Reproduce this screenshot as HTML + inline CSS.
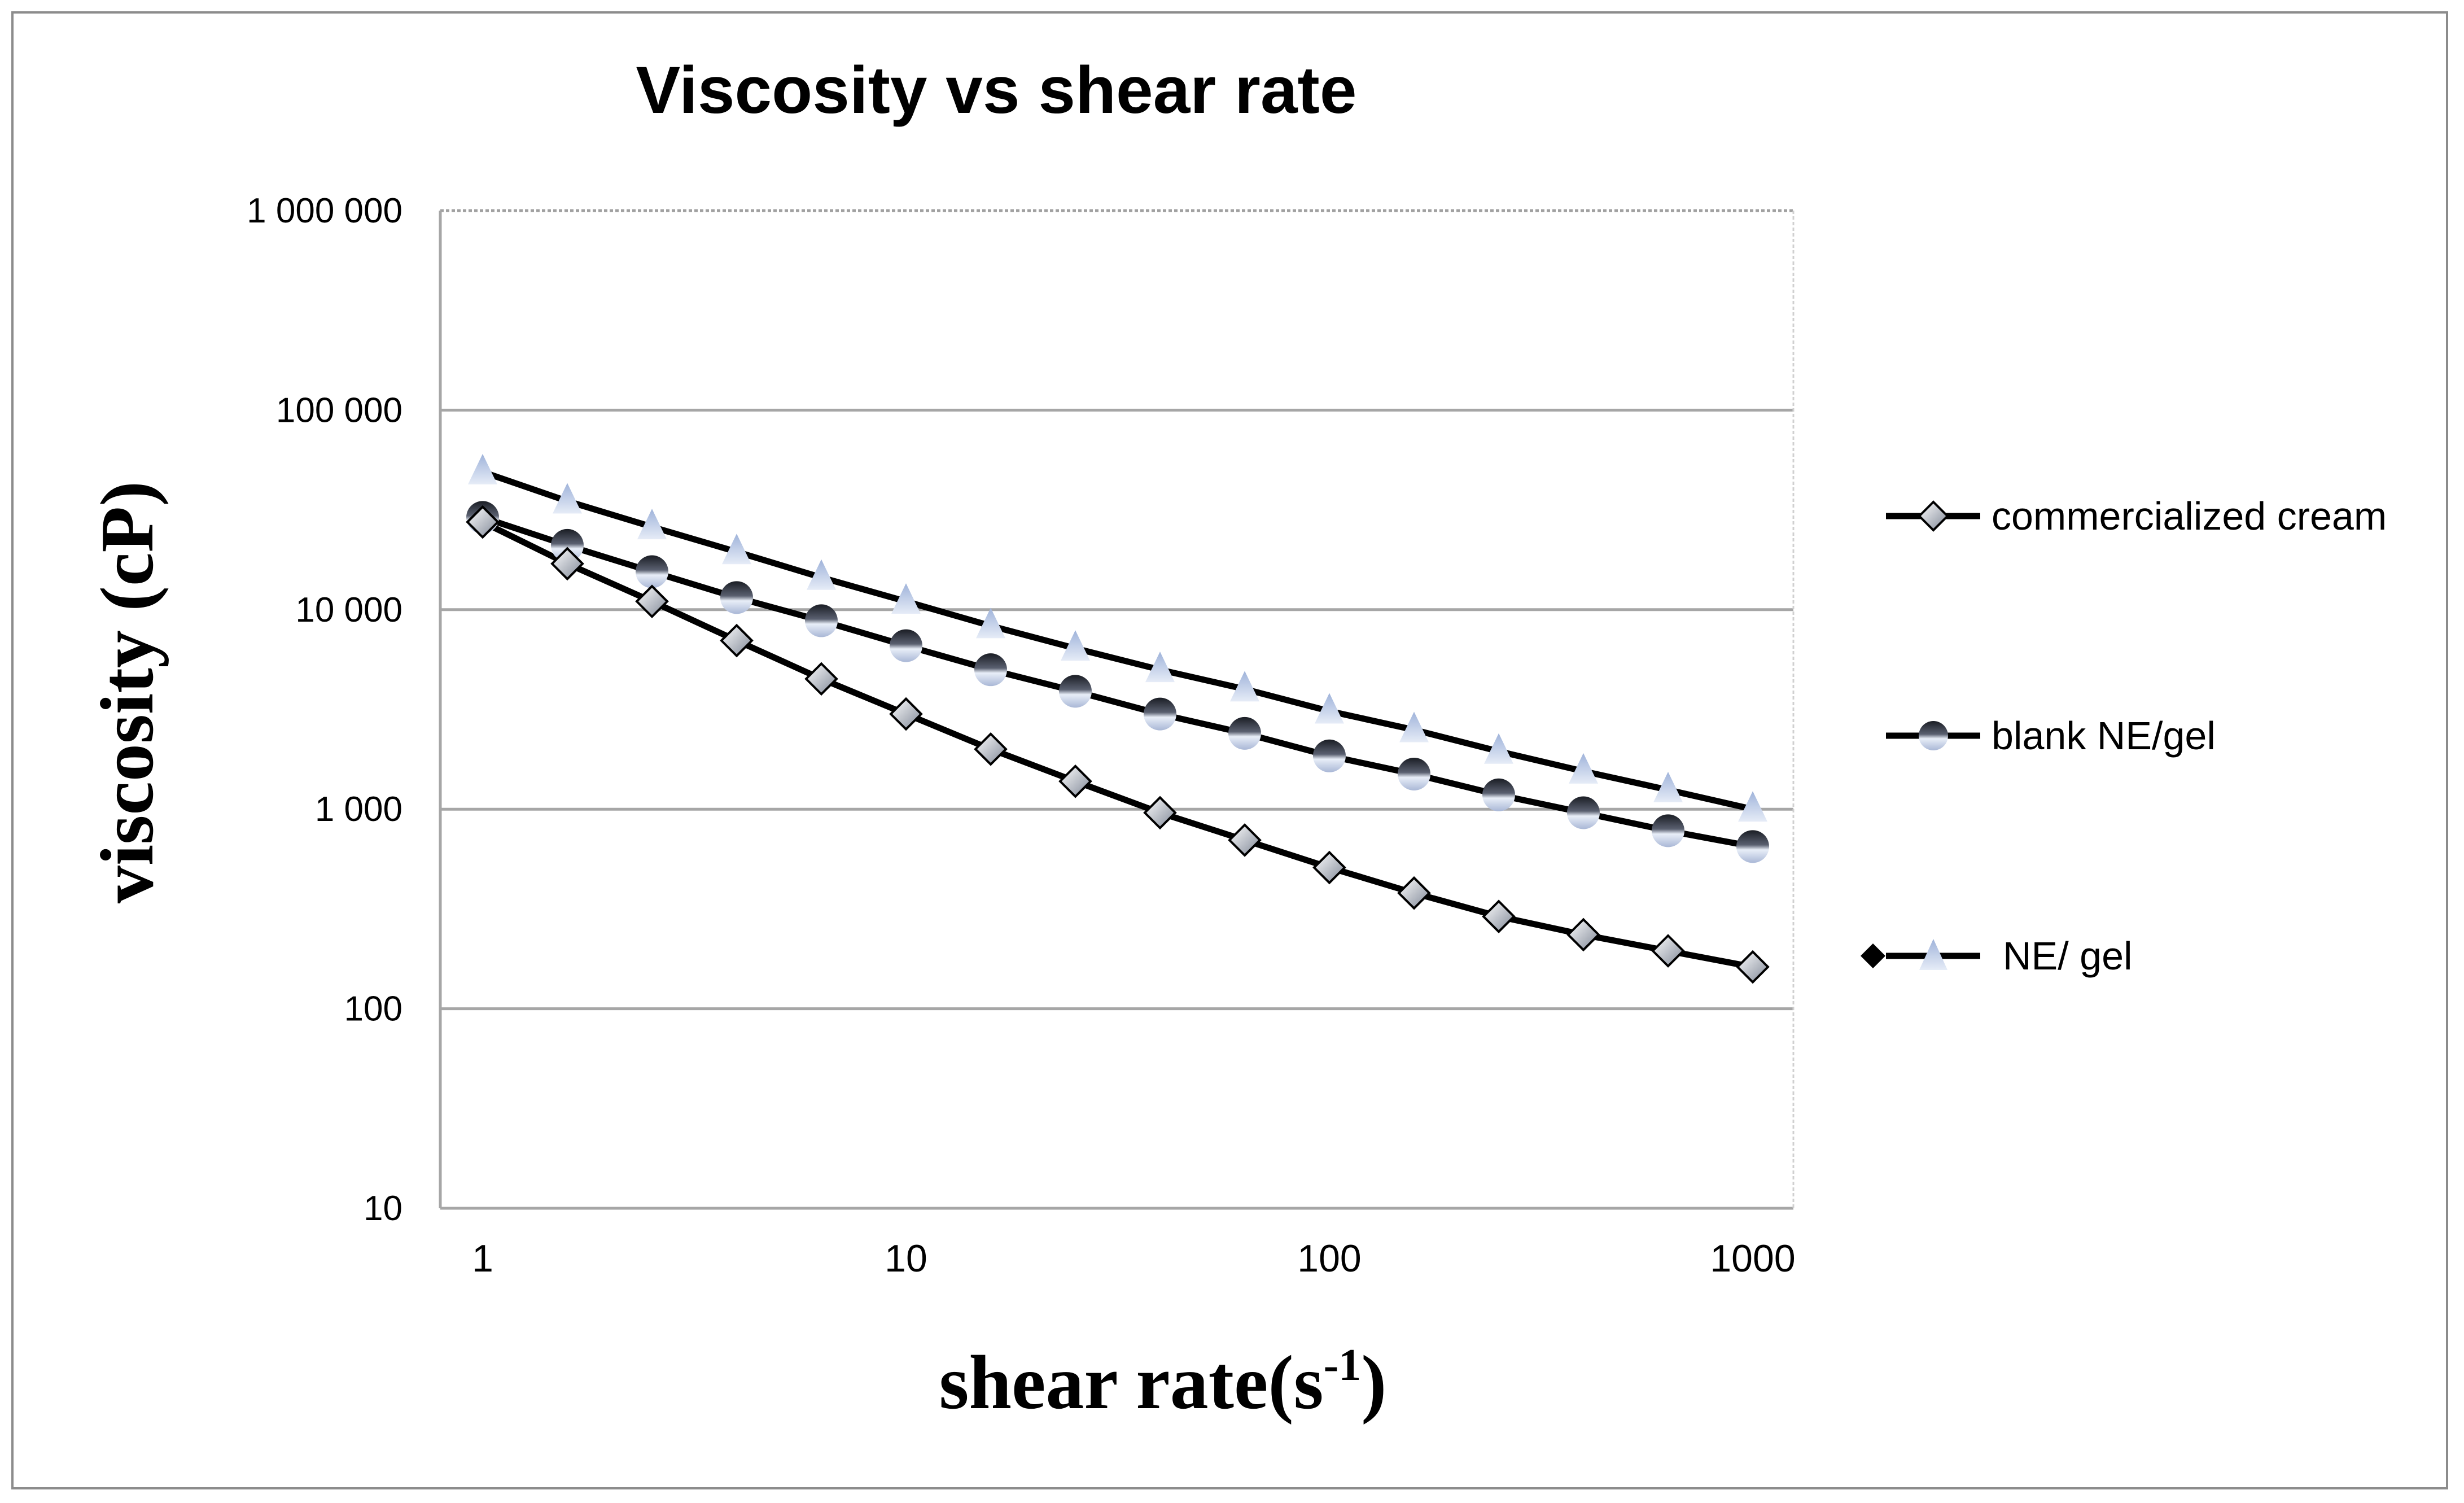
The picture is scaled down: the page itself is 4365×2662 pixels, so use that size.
<!DOCTYPE html>
<html><head><meta charset="utf-8"><style>
html,body{margin:0;padding:0;background:#fff;}
svg{display:block;}
</style></head><body>
<svg width="4365" height="2662" viewBox="0 0 4365 2662" xmlns="http://www.w3.org/2000/svg" id="chart">
<defs>
<linearGradient id="gDia" x1="0" y1="0" x2="1" y2="1"><stop offset="0" stop-color="#ffffff"/><stop offset="1" stop-color="#7f8796"/></linearGradient>
<linearGradient id="gCir" x1="0" y1="0" x2="0" y2="1"><stop offset="0" stop-color="#1a1d24"/><stop offset="0.45" stop-color="#5a6070"/><stop offset="0.6" stop-color="#e8eef8"/><stop offset="1" stop-color="#a9b7d6"/></linearGradient>
<linearGradient id="gTri" x1="0" y1="0" x2="0" y2="1"><stop offset="0" stop-color="#9fb3da"/><stop offset="1" stop-color="#e6ecf7"/></linearGradient>
</defs>
<rect x="22" y="22" width="4313" height="2614" fill="#fff" stroke="#8c8c8c" stroke-width="4"/>
<text x="1765" y="200" text-anchor="middle" font-family="'Liberation Sans Narrow','Liberation Sans',sans-serif" font-weight="bold" font-size="118">Viscosity vs shear rate</text>
<g id="grid"></g>
<g id="series"></g>
<g id="ticks" font-family="'Liberation Sans Narrow','Liberation Sans',sans-serif" font-size="62"></g>
<text transform="translate(270,1226) rotate(-90)" text-anchor="middle" font-family="'Liberation Serif',serif" font-weight="bold" font-size="134">viscosity (cP)</text>
<text x="2060" y="2494" text-anchor="middle" font-family="'Liberation Serif',serif" font-weight="bold" font-size="136">shear rate(s<tspan dy="-50" font-size="80">-1</tspan><tspan dy="50">)</tspan></text>
<g font-family="'Liberation Sans Narrow','Liberation Sans',sans-serif" font-size="70">
<g>
<line x1="3341" y1="914" x2="3508" y2="914" stroke="#000" stroke-width="11"/>
<polygon points="3425,889 3450,914 3425,939 3400,914" fill="url(#gDia)" stroke="#000" stroke-width="4"/>
<text x="3528" y="938">commercialized cream</text></g>
<g>
<line x1="3341" y1="1303" x2="3508" y2="1303" stroke="#000" stroke-width="11"/>
<circle cx="3425" cy="1303" r="26" fill="url(#gCir)"/>
<text x="3528" y="1327">blank NE/gel</text></g>
<g>
<line x1="3341" y1="1693" x2="3508" y2="1693" stroke="#000" stroke-width="11"/>
<polygon points="3340,1693 3318,1671 3296,1693 3318,1715" fill="#000"/>
<polygon points="3425,1663 3450,1718 3400,1718" fill="url(#gTri)"/>
<text x="3548" y="1717">NE/ gel</text></g>
</g>
</svg>
<script>
const shearRates=[1,1.585,2.512,3.981,6.31,10,15.85,25.12,39.81,63.1,100,158.5,251.2,398.1,631,1000];
const creamVals=[27500,17000,11000,7000,4500,3000,2000,1380,960,700,510,380,290,235,195,162];
const blankVals=[29000,21000,15500,11500,8800,6600,5000,3900,3000,2400,1850,1500,1180,960,780,650];
const negelVals=[49000,35000,26000,19500,14500,11000,8300,6400,5000,4000,3100,2500,1950,1550,1250,1000];
const yTicks=[10,100,1000,10000,100000,1000000];
const yTickLabels=["10","100","1 000","10 000","100 000","1 000 000"];
const xTicks=[1,10,100,1000];
const xTickLabels=["1","10","100","1000"];
const NS="http://www.w3.org/2000/svg";
const PL=780,PR=3177,PT=373,PB=2140;
function sx(v){return 855+Math.log10(v)*750;}
function sy(v){return PB-(Math.log10(v)-1)*(PB-PT)/5;}
function mk(tag,attrs,parent){const e=document.createElementNS(NS,tag);for(const k in attrs)e.setAttribute(k,attrs[k]);parent.appendChild(e);return e;}
const grid=document.getElementById('grid'),ser=document.getElementById('series'),tk=document.getElementById('ticks');
yTicks.forEach((v,i)=>{
 const y=sy(v);
 const l=mk('line',{x1:PL,x2:PR,y1:y,y2:y,stroke:i===yTicks.length-1?'#a0a0a0':'#a6a6a6','stroke-width':5},grid);
 if(i===yTicks.length-1)l.setAttribute('stroke-dasharray','6 4');
 
 
 const t=mk('text',{x:713,y:y+21,'text-anchor':'end'},tk);t.textContent=yTickLabels[i];
 
 
});
const ax=mk('line',{x1:PL,x2:PL,y1:PT,y2:PB,stroke:'#a6a6a6','stroke-width':5},grid);


const rx=mk('line',{x1:PR,x2:PR,y1:PT,y2:PB,stroke:'#d0d0d0','stroke-width':3,'stroke-dasharray':'6 4'},grid);


xTicks.forEach((v,i)=>{
 const t=mk('text',{x:sx(v),y:2252,'text-anchor':'middle','font-size':68},tk);t.textContent=xTickLabels[i];
 
 
});
function pts(vals){return vals.map((v,i)=>sx(shearRates[i])+','+sy(v)).join(' ');}
function drawLine(vals,name){const p=mk('polyline',{points:pts(vals),fill:'none',stroke:'#000','stroke-width':11,'stroke-linejoin':'round'},ser);
 
 }
drawLine(negelVals,'ne-gel-line');
drawLine(blankVals,'blank-ne-gel-line');
drawLine(creamVals,'commercialized-cream-line');
negelVals.forEach((v,i)=>{const x=sx(shearRates[i]),y=sy(v);
 const m=mk('polygon',{points:`${x},${y-32} ${x+26},${y+22} ${x-26},${y+22}`,fill:'url(#gTri)'},ser);
 
 });
blankVals.forEach((v,i)=>{const m=mk('circle',{cx:sx(shearRates[i]),cy:sy(v),r:29,fill:'url(#gCir)'},ser);
 
 });
creamVals.forEach((v,i)=>{const x=sx(shearRates[i]),y=sy(v);
 const m=mk('polygon',{points:`${x},${y-27} ${x+27},${y} ${x},${y+27} ${x-27},${y}`,fill:'url(#gDia)',stroke:'#000','stroke-width':4},ser);
 
 });
</script>
</body></html>
